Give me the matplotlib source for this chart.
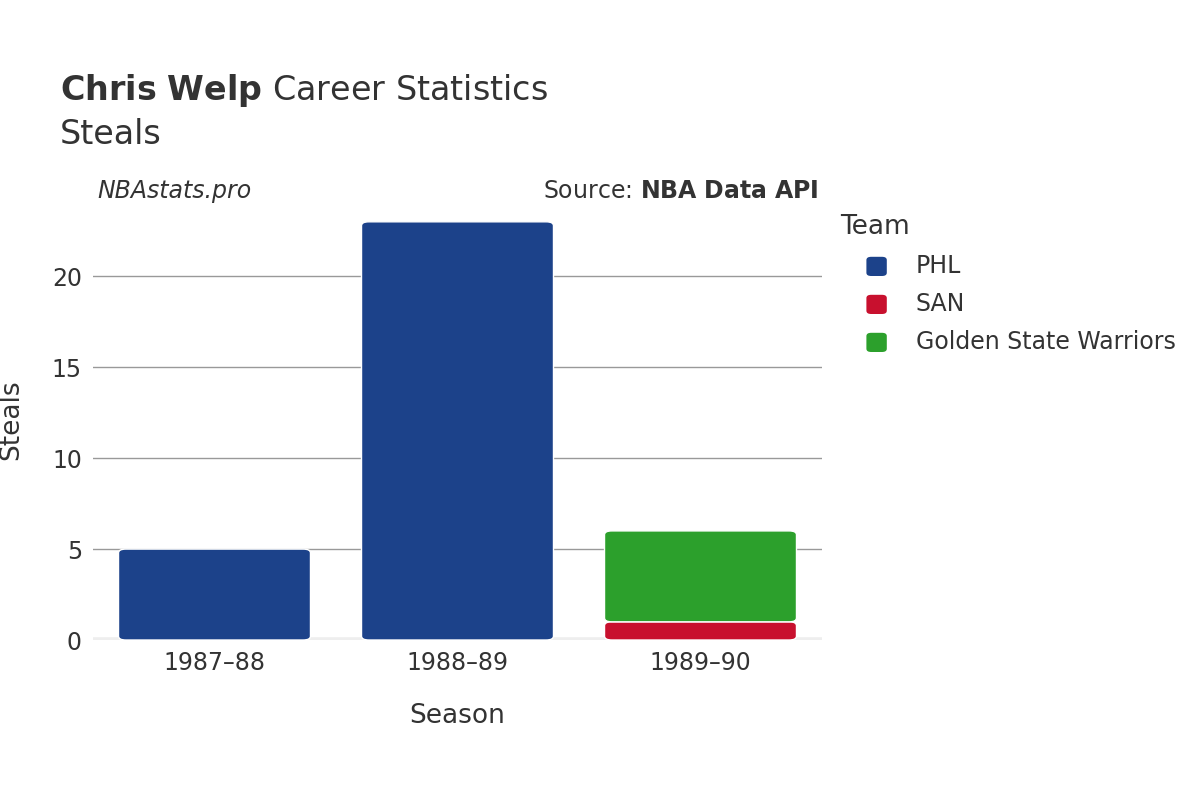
import matplotlib
matplotlib.use("Agg")
import matplotlib.pyplot as plt
from matplotlib.patches import FancyBboxPatch
import numpy as np

seasons = ["1987–88", "1988–89", "1989–90"]
phl = [5, 23, 0]
san = [0, 0, 1]
gsw = [0, 0, 5]
teams = ["PHL", "SAN", "Golden State Warriors"]
colors = ["#1c428a", "#c8102e", "#2ca02c"]

fig = plt.figure(figsize=(12, 8), dpi=100)
ax = fig.add_axes([0.0775, 0.2, 0.6075, 0.55])
x = np.arange(len(seasons))
bottom = np.zeros(3)
for vals, c in zip([phl, san, gsw], colors):
    vals = np.array(vals, float)
    for xi, v, b in zip(x, vals, bottom):
        if v > 0:
            ax.add_patch(FancyBboxPatch((xi - 0.395, b), 0.79, v,
                         boxstyle="round,pad=0,rounding_size=0.03",
                         mutation_aspect=7, fc=c, ec="white", lw=1, zorder=3))
    bottom += vals
ax.set_xlim(-0.5, 2.5)
ax.set_ylim(0, 24.2)
for s in ax.spines.values():
    s.set_visible(False)
ax.set_yticks([0, 5, 10, 15, 20])
ax.grid(axis="y", color="#999999", lw=1, zorder=0)
ax.axhline(0, color="#eeeeee", lw=4, zorder=2)
ax.set_xticks(x)
ax.set_xticklabels(seasons)
ax.tick_params(length=0, labelsize=17, colors="#333333", pad=8)
ax.set_xlabel("Season", fontsize=19, color="#333333", labelpad=20)
ax.set_ylabel("Steals", fontsize=19, color="#333333", labelpad=20)

fig.text(0.05, 0.875, r"$\bf{Chris\ Welp}$ Career Statistics", fontsize=24, color="#333333")
fig.text(0.05, 0.82, "Steals", fontsize=24, color="#333333")
fig.text(0.081, 0.752, "NBAstats.pro", fontsize=17, style="italic", color="#333333")
fig.text(0.682, 0.752, r"Source: $\bf{NBA\ Data\ API}$", fontsize=17, color="#333333", ha="right")

fig.text(0.7, 0.707, "Team", fontsize=19, color="#333333")
for i, (t, c) in enumerate(zip(teams, colors)):
    y = 0.667 - i * 0.0475
    fig.patches.append(FancyBboxPatch((0.722, y - 0.012), 0.017, 0.024,
                       boxstyle="round,pad=0,rounding_size=0.004",
                       transform=fig.transFigure, fc=c, ec="none"))
    fig.text(0.763, y, t, fontsize=17, color="#333333", va="center")

fig.savefig("out.png")
